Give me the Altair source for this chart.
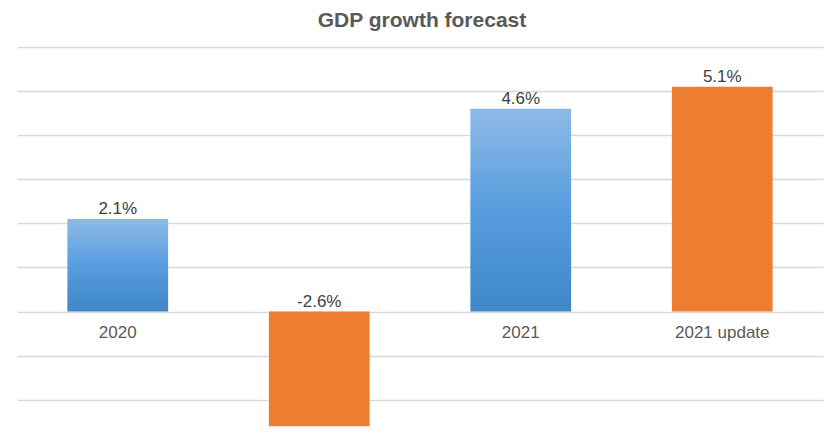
import altair as alt
import pandas as pd

title_text = ["GDP growth forecast"]
categories = ["2020", "2020 update", "2021", "2021 update"]
values = [2.1, -2.6, 4.6, 5.1]
labels = ["2.1%", "-2.6%", "4.6%", "5.1%"]
series = ["forecast", "update", "forecast", "update"]
grid_values = [-2, -1, 0, 1, 2, 3, 4, 5, 6]

df = pd.DataFrame({"cat": categories, "value": values, "label": labels, "series": series,
                   "top": [max(v, 0) for v in values], "zero": [0] * 4})

FONT = "Liberation Sans"
x = alt.X("cat:N", sort=categories, axis=None,
          scale=alt.Scale(paddingInner=0.5, paddingOuter=0.25))
yscale = alt.Scale(domain=[-2.866, 6.884], nice=False, zero=False)
y_axis = alt.Axis(values=grid_values, grid=True, gridColor="#d9d9d9", gridWidth=1.5,
                  domain=False, ticks=False, labels=False, title=None)

grid = alt.Chart(df).mark_bar(opacity=0).encode(
    x=x, y=alt.Y("zero:Q", scale=yscale, axis=y_axis)
)

cat_labels = alt.Chart(df).mark_text(font=FONT, fontSize=17, color="#595959", dy=26,
                                     baseline="alphabetic").encode(
    x=x, y=alt.Y("zero:Q", scale=yscale), text="cat:N"
)

blue = {"gradient": "linear", "x1": 0, "y1": 0, "x2": 0, "y2": 1,
        "stops": [{"offset": 0, "color": "#8dbae6"},
                  {"offset": 0.5, "color": "#579ddf"},
                  {"offset": 1, "color": "#3f87c9"}]}

bars_blue = alt.Chart(df).transform_filter(alt.datum.series == "forecast").mark_bar(
    color=blue).encode(
    x=x, y=alt.Y("value:Q", scale=yscale), y2="zero:Q"
)
bars_orange = alt.Chart(df).transform_filter(alt.datum.series == "update").mark_bar(
    color="#ed7d31").encode(
    x=x, y=alt.Y("value:Q", scale=yscale), y2="zero:Q"
)

val_labels = alt.Chart(df).mark_text(font=FONT, fontSize=17, color="#404040", dy=-5,
                                     baseline="alphabetic").encode(
    x=x, y=alt.Y("top:Q", scale=yscale), text="label:N"
)

title = alt.Chart(pd.DataFrame({"t": title_text})).mark_text(
    font=FONT, fontSize=21, fontWeight="bold", color="#595959", baseline="alphabetic",
    align="center").encode(x=alt.value(405), y=alt.value(19), text="t:N")

chart = alt.layer(grid, cat_labels, bars_blue, bars_orange, val_labels, title).properties(
    width=806, height=430,
    autosize=alt.AutoSizeParams(type="none"),
    padding={"left": 9, "top": 0, "right": 9, "bottom": 0},
).configure_view(stroke=None)

chart.save("out.html", embed_options={"renderer": "svg", "actions": False})
